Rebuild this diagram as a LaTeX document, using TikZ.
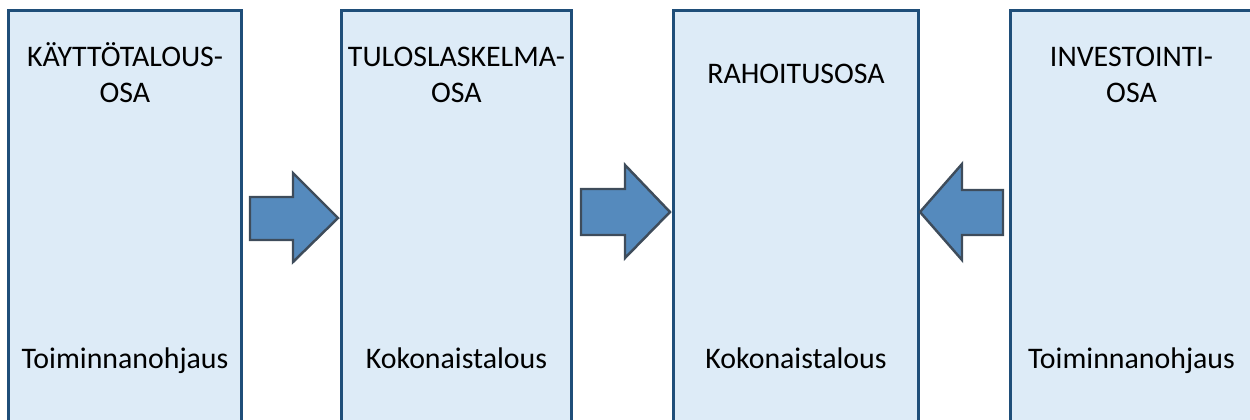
\documentclass[tikz,border=0pt]{standalone}
\usepackage{fontspec}
\setmainfont{Carlito}
\definecolor{osaFill}{HTML}{DDEBF7}
\definecolor{osaLine}{HTML}{1F4E79}
\definecolor{nuoliFill}{HTML}{558ABD}
\definecolor{nuoliLine}{HTML}{3E4C5B}
\tikzset{
	osa/.style={fill=osaFill, draw=osaLine, line width=1.7pt},
	nuoli/.style={fill=nuoliFill, draw=nuoliLine, line width=1.4pt, line join=miter},
	teksti/.style={align=center, inner sep=0pt, anchor=base, font=\fontsize{17}{20}\selectfont}
}
\begin{document}
\begin{tikzpicture}[x=0.02cm, y=-0.02cm]
		\useasboundingbox (0, 0) rectangle (1250, 419);
		\clip (0, 0) rectangle (1250, 419);
		% osat
		\filldraw[osa] (8.5, 10.5) rectangle (241.5, 440);
		\filldraw[osa] (341.5, 10.5) rectangle (571.5, 440);
		\filldraw[osa] (673.5, 10.5) rectangle (918.5, 440);
		\filldraw[osa] (1010, 10.5) rectangle (1253, 440);
		% otsikot
		\node[teksti] (kayttotalous) at (125, 102) {KÄYTTÖTALOUS-\\OSA};
		\node[teksti] (tuloslaskelma) at (456.5, 102) {TULOSLASKELMA-\\OSA};
		\node[teksti] (rahoitus) at (796, 83) {RAHOITUSOSA};
		\node[teksti] (investointi) at (1131.5, 102) {INVESTOINTI-\\OSA};
		% alarivit
		\node[teksti] (kayttoAla) at (125, 368) {Toiminnanohjaus};
		\node[teksti] (tulosAla) at (456.5, 368) {Kokonaistalous};
		\node[teksti] (rahoitusAla) at (796, 368) {Kokonaistalous};
		\node[teksti] (investointiAla) at (1131.5, 368) {Toiminnanohjaus};
		% nuolet
		\filldraw[nuoli] (250, 197) -- (293, 197) -- (293, 173) -- (338, 218) -- (293, 262) -- (293, 240) -- (250, 240) -- cycle;
		\filldraw[nuoli] (581, 189) -- (625, 189) -- (625, 165) -- (670, 212) -- (625, 258) -- (625, 235) -- (581, 235) -- cycle;
		\filldraw[nuoli] (1003, 190) -- (962, 190) -- (962, 164) -- (920, 212) -- (962, 260) -- (962, 235) -- (1003, 235) -- cycle;
\end{tikzpicture}
\end{document}
